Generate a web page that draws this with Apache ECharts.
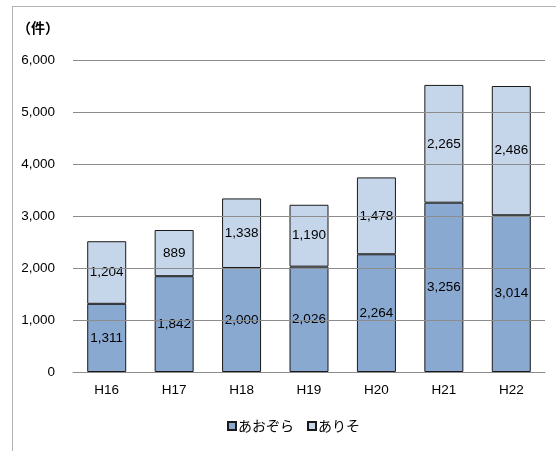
<!DOCTYPE html>
<html>
<head>
<meta charset="utf-8">
<script src="https://cdn.jsdelivr.net/npm/echarts@6/dist/echarts.min.js"></script>
<style>
  html, body { margin: 0; padding: 0; background: #fff; }
  #chart { width: 556px; height: 451px; }
</style>
</head>
<body>
<div id="chart"></div>
<script>
// 年度別件数（あおぞら／ありそ）
const categories = ['H16', 'H17', 'H18', 'H19', 'H20', 'H21', 'H22'];
const aozora = [1311, 1842, 2000, 2026, 2264, 3256, 3014];
const ariso = [1204, 889, 1338, 1190, 1478, 2265, 2486];
const seriesNames = ['あおぞら', 'ありそ'];
const yTicks = [0, 1000, 2000, 3000, 4000, 5000, 6000];

const fontLatin = '"Liberation Sans", "Noto Sans CJK JP", sans-serif';
const fontJp = '"Noto Sans CJK JP", sans-serif';

const fmt = v => v.toLocaleString('en-US');

const chart = echarts.init(document.getElementById('chart'), null, { renderer: 'canvas' });

const barLabel = {
  show: true,
  position: 'inside',
  color: '#000',
  fontFamily: fontLatin,
  fontSize: 13.5,
  formatter: p => fmt(p.value)
};

chart.setOption({
  animation: false,
  backgroundColor: '#fff',
  graphic: [
    { type: 'line', shape: { x1: 12, y1: 6.5, x2: 556, y2: 6.5 }, style: { stroke: '#b4b4b4', lineWidth: 1 } },
    { type: 'line', shape: { x1: 12.5, y1: 6, x2: 12.5, y2: 451 }, style: { stroke: '#b4b4b4', lineWidth: 1 } },
    { type: 'text', left: 17, top: 21, style: { text: '（件）', font: 'bold 14px ' + fontJp, fill: '#000' } }
  ],
  grid: { left: 73, right: 11, top: 60, bottom: 79, containLabel: false },
  legend: {
    data: seriesNames,
    bottom: 13,
    left: 222,
    icon: 'rect',
    itemWidth: 8,
    itemHeight: 8,
    itemGap: 13,
    textStyle: { fontFamily: fontJp, fontSize: 14, color: '#000', padding: [0, 0, 0, -3] }
  },
  xAxis: {
    type: 'category',
    data: categories,
    axisTick: { show: false },
    axisLine: { show: true, lineStyle: { color: '#8c8c8c', width: 1 } },
    axisLabel: { color: '#000', fontFamily: fontLatin, fontSize: 13.5, margin: 12 }
  },
  yAxis: {
    type: 'value',
    min: yTicks[0],
    max: yTicks[yTicks.length - 1],
    interval: 1000,
    z: 5,
    axisLine: { show: false },
    axisTick: { show: false },
    splitLine: { lineStyle: { color: '#8c8c8c', width: 1 } },
    axisLabel: { color: '#000', fontFamily: fontLatin, fontSize: 13.5, margin: 18, formatter: v => fmt(v) }
  },
  series: [
    {
      name: seriesNames[0],
      type: 'bar',
      stack: 'total',
      data: aozora,
      barWidth: 39,
      itemStyle: { color: '#89a9d1', borderColor: '#1a1a1a', borderWidth: 1 },
      label: barLabel
    },
    {
      name: seriesNames[1],
      type: 'bar',
      stack: 'total',
      data: ariso,
      barWidth: 39,
      itemStyle: { color: '#c6d6ea', borderColor: '#1a1a1a', borderWidth: 1 },
      label: barLabel
    }
  ]
});
</script>
</body>
</html>
